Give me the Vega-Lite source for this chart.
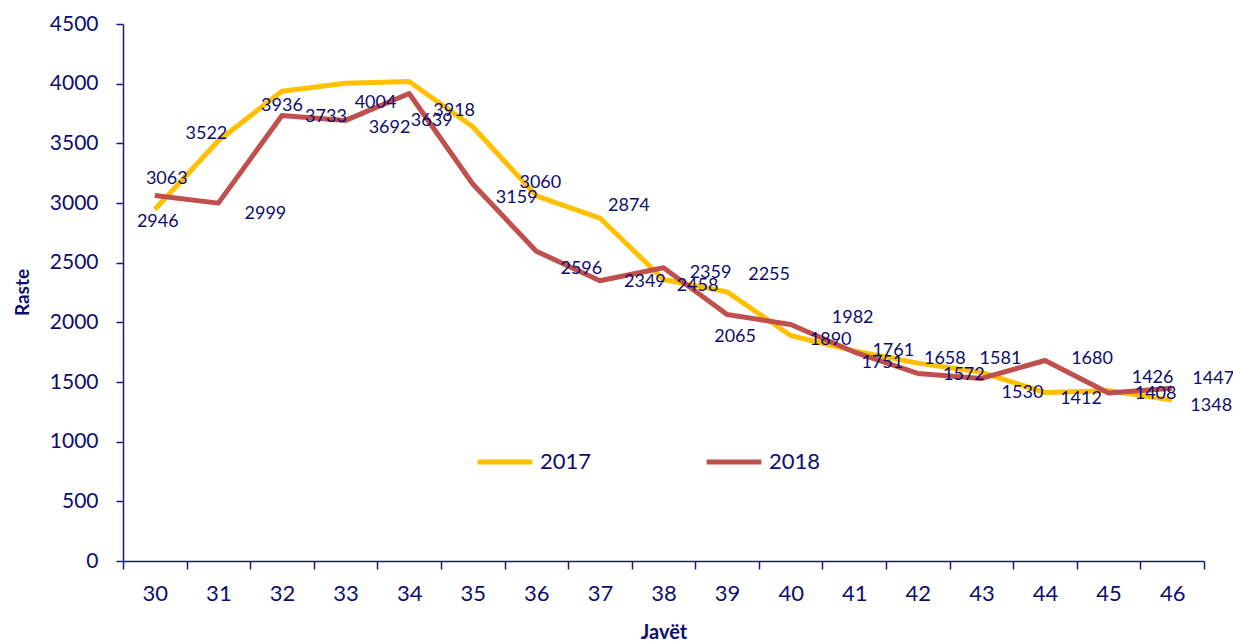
{
  "$schema": "https://vega.github.io/schema/vega-lite/v6.json",
  "width": 1081,
  "height": 537,
  "autosize": {"type": "none"},
  "padding": {"left": 123, "top": 24, "right": 29, "bottom": 82},
  "background": "white",
  "config": {
    "view": {"stroke": null},
    "font": "Lato",
    "axis": {"labelColor": "#0d0d6e", "titleColor": "#0d0d6e", "domainColor": "#1a1a7a", "tickColor": "#1a1a7a", "grid": false}
  },
  "data": {
    "values": [
      {"week": 30, "year": "2017", "value": 2946},
      {"week": 31, "year": "2017", "value": 3522},
      {"week": 32, "year": "2017", "value": 3936},
      {"week": 33, "year": "2017", "value": 4004},
      {"week": 34, "year": "2017", "value": 4018},
      {"week": 35, "year": "2017", "value": 3639},
      {"week": 36, "year": "2017", "value": 3060},
      {"week": 37, "year": "2017", "value": 2874},
      {"week": 38, "year": "2017", "value": 2359},
      {"week": 39, "year": "2017", "value": 2255},
      {"week": 40, "year": "2017", "value": 1890},
      {"week": 41, "year": "2017", "value": 1761},
      {"week": 42, "year": "2017", "value": 1658},
      {"week": 43, "year": "2017", "value": 1581},
      {"week": 44, "year": "2017", "value": 1412},
      {"week": 45, "year": "2017", "value": 1426},
      {"week": 46, "year": "2017", "value": 1348},
      {"week": 30, "year": "2018", "value": 3063},
      {"week": 31, "year": "2018", "value": 2999},
      {"week": 32, "year": "2018", "value": 3733},
      {"week": 33, "year": "2018", "value": 3692},
      {"week": 34, "year": "2018", "value": 3918},
      {"week": 35, "year": "2018", "value": 3159},
      {"week": 36, "year": "2018", "value": 2596},
      {"week": 37, "year": "2018", "value": 2349},
      {"week": 38, "year": "2018", "value": 2458},
      {"week": 39, "year": "2018", "value": 2065},
      {"week": 40, "year": "2018", "value": 1982},
      {"week": 41, "year": "2018", "value": 1751},
      {"week": 42, "year": "2018", "value": 1572},
      {"week": 43, "year": "2018", "value": 1530},
      {"week": 44, "year": "2018", "value": 1680},
      {"week": 45, "year": "2018", "value": 1408},
      {"week": 46, "year": "2018", "value": 1447}
    ]
  },
  "encoding": {
    "x": {
      "field": "week", "type": "ordinal",
      "scale": {"type": "band", "paddingInner": 0, "paddingOuter": 0},
      "axis": {
        "title": "Javët", "titleFontSize": 20, "titleFontWeight": "bold", "titlePadding": 18,
        "labelAngle": 0, "labelFontSize": 22, "labelPadding": 14, "tickSize": 8,
        "tickBand": "extent", "domainWidth": 1.5, "tickWidth": 1.5
      }
    },
    "y": {
      "field": "value", "type": "quantitative",
      "scale": {"domain": [0, 4500], "nice": false},
      "axis": {
        "title": "Raste", "titleFontSize": 19, "titleFontWeight": "bold",
        "titleX": -101, "titleY": 268, "titleAngle": -90, "titleAlign": "center", "titleBaseline": "middle",
        "values": [0, 500, 1000, 1500, 2000, 2500, 3000, 3500, 4000, 4500],
        "format": "d",
        "labelFontSize": 21, "labelPadding": 18, "tickSize": 7,
        "domainWidth": 1.5, "tickWidth": 1.5
      }
    }
  },
  "layer": [
    {
      "mark": {"type": "line", "strokeWidth": 5, "strokeJoin": "round"},
      "encoding": {
        "color": {
          "field": "year", "type": "nominal",
          "scale": {"domain": ["2017", "2018"], "range": ["#FFC000", "#C0504D"]},
          "legend": {
            "title": null, "orient": "none", "direction": "horizontal",
            "legendX": 352, "legendY": 408,
            "symbolType": "stroke", "symbolSize": 3000, "symbolStrokeWidth": 5,
            "labelFontSize": 22, "labelColor": "#0d0d6e", "labelOffset": 5,
            "columnPadding": 104
          }
        }
      }
    },
    {
      "transform": [{"filter": "!(datum.year == '2017' && datum.week == 34)"}],
      "mark": {
        "type": "text", "fontSize": 18, "color": "#0d0d6e",
        "dx": {"expr": "({a30:3,a31:-12,a32:0,a33:30,a35:-41,a36:4,a37:29,a38:47,a39:42,a40:40,a41:39,a42:27,a43:19,a44:36,a45:44,a46:39,b30:12,b31:47,b32:44,b33:44,b34:45,b35:44,b36:45,b37:45,b38:34,b39:8,b40:62,b41:28,b42:46,b43:41,b44:47,b45:47,b46:41})[(datum.year == '2017' ? 'a' : 'b') + datum.week]"},
        "dy": {"expr": "({a30:13,a31:-7,a32:15,a33:20,a35:-6,a36:-13,a37:-12,a38:-6,a39:-17,a40:5,a41:0,a42:-4,a43:-13,a44:6,a45:-13,a46:6,b30:-16,b31:11,b32:1,b33:8,b34:18,b35:14,b36:18,b37:1,b38:18,b39:22,b40:-6,b41:11,b42:2,b43:15,b44:-2,b45:1,b46:-9})[(datum.year == '2017' ? 'a' : 'b') + datum.week]"}
      },
      "encoding": {"text": {"field": "value", "type": "quantitative"}}
    }
  ]
}
